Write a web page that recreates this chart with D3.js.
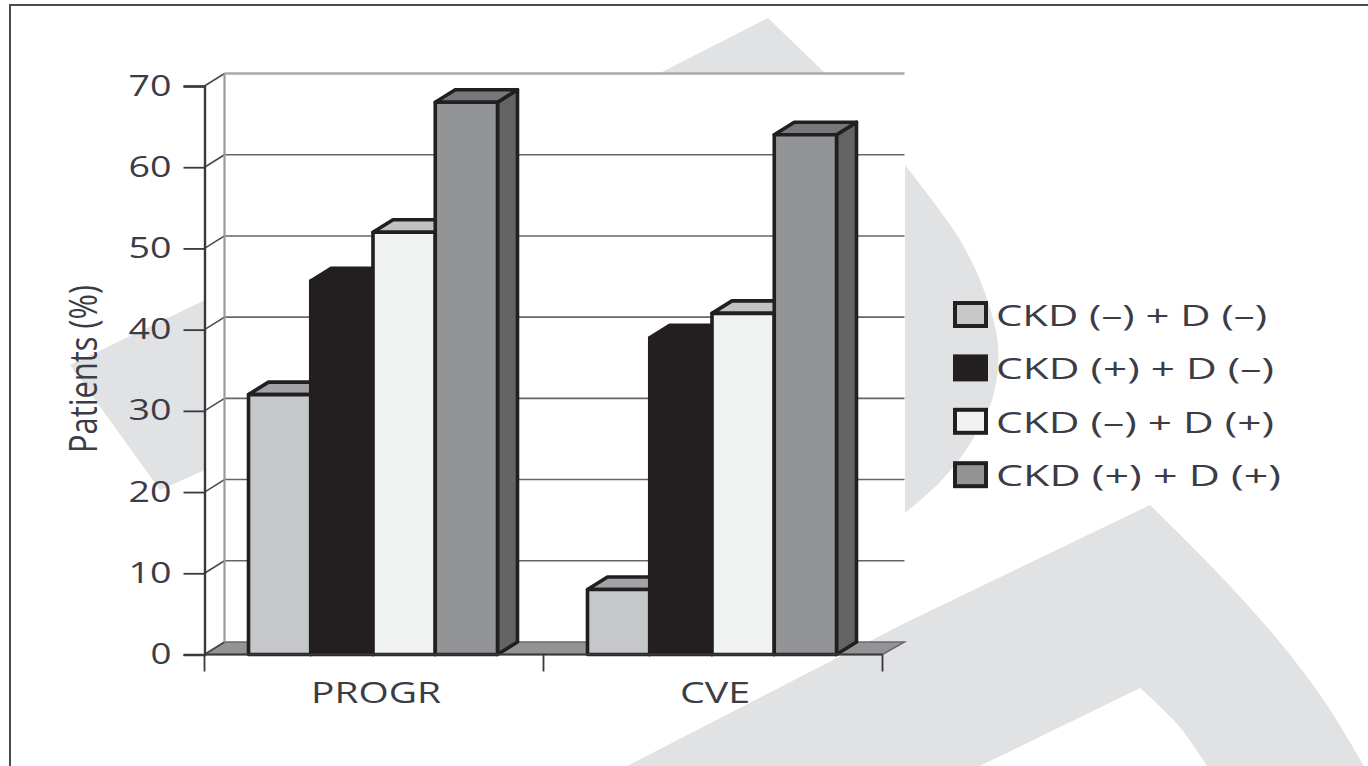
<!DOCTYPE html>
<html>
<head>
<meta charset="utf-8">
<style>
html,body{margin:0;padding:0;background:#fff;overflow:hidden}
svg{display:block}
text{font-family:"Open Sans",sans-serif;fill:#3c3c46}
</style>
<script src="https://cdn.jsdelivr.net/npm/d3@7/dist/d3.min.js"></script>
</head>
<body>
<svg id="chart" width="1368" height="766"></svg>
<script>
// Percentage of patients reaching each outcome, by CKD / diabetes status
const categories = ["PROGR", "CVE"];
const seriesNames = ["CKD (–) + D (–)", "CKD (+) + D (–)", "CKD (–) + D (+)", "CKD (+) + D (+)"];
const progrValues = [32, 46, 52, 68];
const cveValues = [8, 39, 42, 64];
const yTicks = [0, 10, 20, 30, 40, 50, 60, 70];

const frontFill = ["#c6c7c9", "#231f20", "#f1f3f2", "#939496"];
const topFill = ["#a2a3a6", "#231f20", "#c0c2c4", "#77787b"];
const sideFill = ["#8c8d90", "#231f20", "#b5b6b8", "#636466"];
const ink = "#231f20";
const shade = "#e1e2e4";

const svg = d3.select("#chart");
const W = 1368, H = 766;

// 3-D plot box
const left = 204.5, right = 882.5, base = 654.5, top70 = 86;
const dx = 20, dy = -12.5;

const x = d3.scaleBand().domain(categories).range([left, right]).paddingInner(0).paddingOuter(0);
const barBand = d3.scaleBand().domain(d3.range(seriesNames.length))
  .range([44, 293]);
const y = d3.scaleLinear().domain([0, 70]).range([base, top70]);

// Pale logo shapes sitting behind the chart
const bg = svg.append("g").attr("fill", shade);
const smooth = d3.line().curve(d3.curveCatmullRom.alpha(0.5));
const poly = pts => "M" + pts.join("L") + "Z";
bg.append("path").attr("d", poly([[660, 73], [768, 18], [825, 73]]));
bg.append("path").attr("d", smooth([[905, 165], [932, 200], [960, 240], [982, 285], [998, 345], [992, 400], [968, 447], [940, 482], [905, 513]]) + "Z");
bg.append("path").attr("d", poly([[205, 300], [70, 365], [160, 490], [205, 470]]));
bg.append("path").attr("d",
  smooth([[1150, 505], [1213, 568], [1278, 640], [1325, 702], [1364, 766]]) +
  smooth([[1207, 766], [1178, 725], [1140, 688]]).replace("M", "L") +
  "L980,766L627,766L905,623Z");

// Frame around the figure
svg.append("path").attr("d", `M10,${H}V5H${W}`).attr("fill", "none")
  .attr("stroke", "#4a4a4c").attr("stroke-width", 2);

// Floor of the plot box
svg.append("path")
  .attr("d", poly([[left, base], [left + dx, base + dy], [right + dx + 2, base + dy], [right, base]]))
  .attr("fill", "#939496").attr("stroke", "#6a6a6c").attr("stroke-width", 1.5);

// Back wall gridlines and the slanted side-wall lines
const grid = svg.append("g");
grid.selectAll("line.back").data(yTicks.filter(d => d > 0)).join("line")
  .attr("class", "back")
  .attr("x1", left + dx).attr("x2", right + dx + 2)
  .attr("y1", d => y(d) + dy).attr("y2", d => y(d) + dy)
  .attr("stroke", d => d === 70 ? "#a9a9ab" : "#666668")
  .attr("stroke-width", d => d === 70 ? 2.5 : 1.6);
grid.selectAll("line.side").data(yTicks).join("line")
  .attr("class", "side")
  .attr("x1", left).attr("x2", left + dx)
  .attr("y1", d => y(d)).attr("y2", d => y(d) + dy)
  .attr("stroke", "#4a4a4c").attr("stroke-width", 1.6);
grid.append("line")
  .attr("x1", left + dx).attr("x2", left + dx)
  .attr("y1", y(70) + dy).attr("y2", base + dy)
  .attr("stroke", "#9a9a9c").attr("stroke-width", 2.2);

// Bars, drawn left to right so each one overlaps its neighbour's side
const rows = categories.map((c, i) => ({ c, values: i === 0 ? progrValues : cveValues }));
const barsG = svg.append("g").attr("stroke", ink).attr("stroke-width", 3.6).attr("stroke-linejoin", "round");
rows.forEach(r => {
  r.values.forEach((v, i) => {
    const x0 = x(r.c) + barBand(i), x1 = x0 + barBand.bandwidth(), yt = y(v);
    const b = barsG.append("g");
    b.append("path").attr("fill", sideFill[i])
      .attr("d", poly([[x1, yt], [x1 + dx, yt + dy], [x1 + dx, base + dy], [x1, base]]));
    b.append("path").attr("fill", topFill[i])
      .attr("d", poly([[x0, yt], [x0 + dx, yt + dy], [x1 + dx, yt + dy], [x1, yt]]));
    b.append("rect").attr("fill", frontFill[i])
      .attr("x", x0).attr("y", yt).attr("width", x1 - x0).attr("height", base - yt);
  });
});

// Value axis
const yAxis = svg.append("g").attr("transform", `translate(${left},0)`)
  .call(d3.axisLeft(y).tickValues(yTicks).tickSize(21).tickPadding(12).tickFormat(d3.format("d")));
yAxis.select(".domain").attr("stroke", "#39393b").attr("stroke-width", 2.4);
yAxis.selectAll(".tick line").attr("stroke", "#39393b").attr("stroke-width", 1.8);
yAxis.selectAll(".tick text")
  .style("font-family", '"Open Sans",sans-serif').style("font-size", "30px")
  .attr("dy", "0.3em")
  .attr("textLength", d => d === 0 ? 21 : 43).attr("lengthAdjust", "spacingAndGlyphs")
  .attr("fill", "#3c3c46");

// Category axis: labels centred on each band, ticks on the band edges
const xAxis = svg.append("g").attr("transform", `translate(0,${base})`)
  .call(d3.axisBottom(x).tickSize(0).tickPadding(27));
xAxis.select(".domain").attr("d", `M${left},0H${right}`).attr("stroke", "#39393b").attr("stroke-width", 2);
xAxis.selectAll(".tick text")
  .style("font-family", '"Open Sans",sans-serif').style("font-size", "30px")
  .attr("textLength", d => d === "PROGR" ? 130 : 70).attr("lengthAdjust", "spacingAndGlyphs")
  .attr("x", 2)
  .attr("fill", "#3c3c46");
svg.append("g").selectAll("line").data([left, left + x.step(), right]).join("line")
  .attr("x1", d => d).attr("x2", d => d).attr("y1", base).attr("y2", base + 17)
  .attr("stroke", "#39393b").attr("stroke-width", 1.8);

// Rotated axis title
svg.append("text")
  .attr("transform", "translate(97,369) rotate(-90)")
  .attr("text-anchor", "middle")
  .attr("font-size", 38)
  .attr("textLength", 168).attr("lengthAdjust", "spacingAndGlyphs")
  .text("Patients (%)");

// Legend
const legendWidths = [271, 278, 278, 285];
const legend = svg.append("g").selectAll("g").data(seriesNames).join("g")
  .attr("transform", (d, i) => `translate(955,${303 + i * 53.4})`);
legend.append("rect").attr("width", 31).attr("height", 23)
  .attr("fill", (d, i) => frontFill[i]).attr("stroke", ink).attr("stroke-width", 4);
legend.append("text").attr("x", 41).attr("y", 23)
  .attr("font-size", 30)
  .attr("textLength", (d, i) => legendWidths[i]).attr("lengthAdjust", "spacingAndGlyphs")
  .text(d => d);
</script>
</body>
</html>
